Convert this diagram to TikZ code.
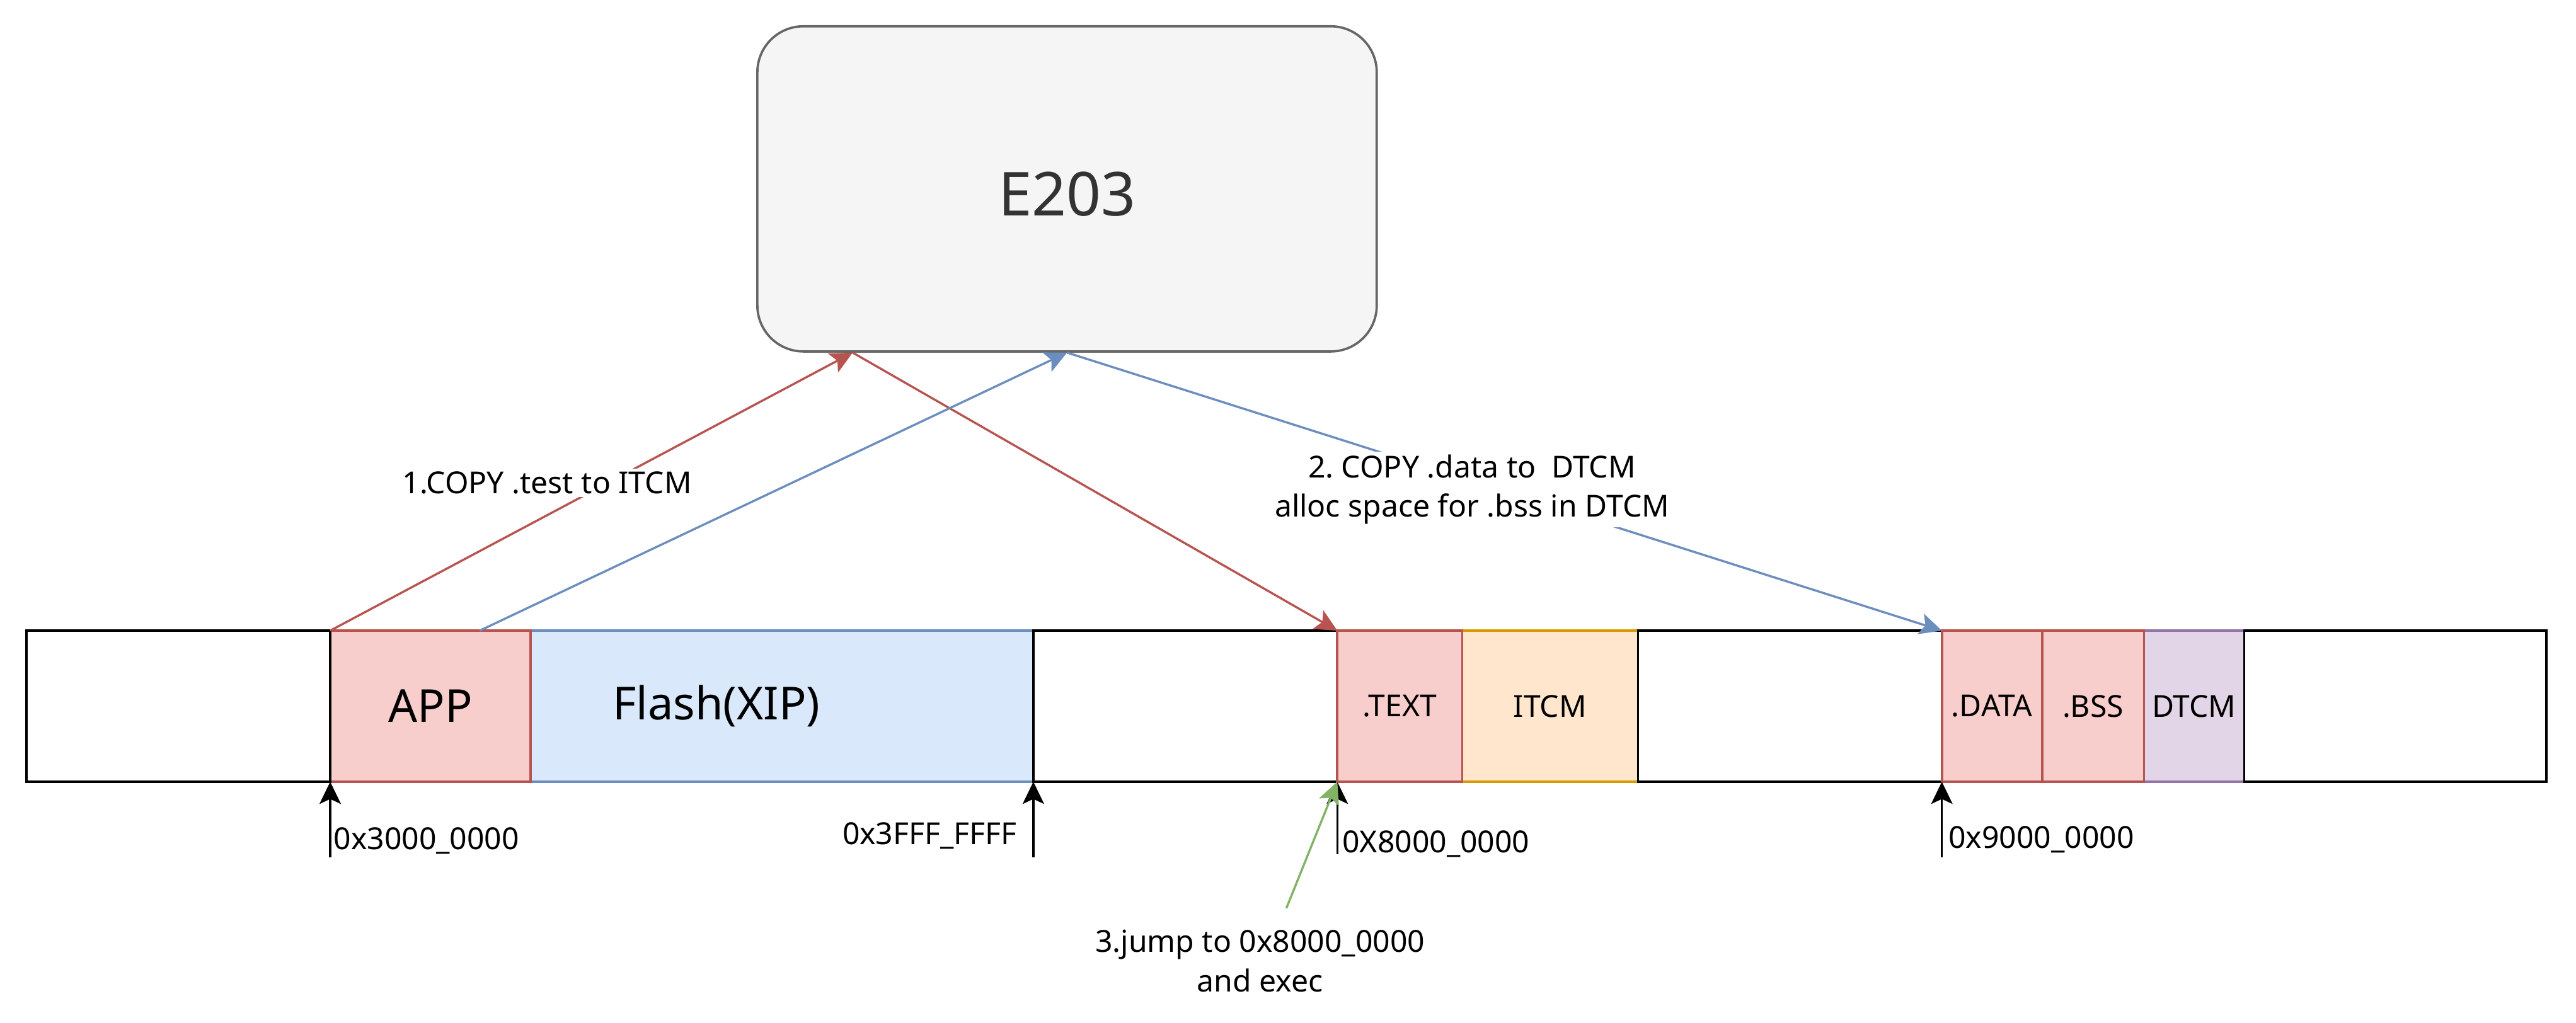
\documentclass[tikz,border=0pt]{standalone}
\usepackage{fontspec}
\setmainfont{Noto Sans}
\frenchspacing
\usetikzlibrary{arrows.meta,fit,calc}
\definecolor{redfill}{HTML}{F8CECC}\definecolor{redline}{HTML}{B85450}
\definecolor{bluefill}{HTML}{DAE8FC}\definecolor{blueline}{HTML}{6C8EBF}
\definecolor{orangefill}{HTML}{FFE6CC}\definecolor{orangeline}{HTML}{D79B00}
\definecolor{purplefill}{HTML}{E1D5E7}\definecolor{purpleline}{HTML}{9673A6}
\definecolor{grayfill}{HTML}{F5F5F5}\definecolor{grayline}{HTML}{666666}
\definecolor{graytext}{HTML}{333333}\definecolor{greenline}{HTML}{82B366}
\tikzset{
  ln/.style={line width=0.8pt, line cap=rect, line join=miter},
  cell/.style={inner sep=0pt, outer sep=0pt},
  small/.style={inner sep=0pt, font=\fontsize{10.5}{12.6}\selectfont},
  big/.style={inner sep=0pt, font=\fontsize{15.75}{18}\selectfont},
  cpubox/.style={draw=grayline, fill=grayfill, line width=0.8pt, rounded corners=0.56cm,
     inner sep=0pt},
  cputext/.style={inner sep=0pt, text=graytext, font=\fontsize{21}{25}\selectfont},
  tipa/.style={-{Stealth[length=0.27cm,width=0.26cm,inset=0.06cm]}, line width=0.75pt},
  lbl/.style={fill=white, inner sep=1pt, font=\fontsize{10.5}{13.7}\selectfont\frenchspacing, align=center},
  addr/.style={inner sep=1pt, font=\fontsize{10.5}{12.6}\selectfont},
}
\begin{document}
\begin{tikzpicture}[x=0.02cm, y=-0.02cm]
\useasboundingbox (0,0) rectangle (1568,622.9);

% CPU
\node[cpubox, fit={(461,16) (838,214)}] (cpu) {};
\node[cputext] (cpulabel) at ($(cpu.center)+(0,3)$) {E203};

% memory cells
\node[cell, fill=white, fit={(16,384) (201,476)}] (w1) {};
\node[cell, fill=redfill, fit={(201,384) (323,476)}] (app) {};
\node[cell, fill=bluefill, fit={(323,384) (629,476)}] (flash) {};
\node[cell, fill=white, fit={(629,384) (814,476)}] (w2) {};
\node[cell, fill=redfill, fit={(814,384) (890,476)}] (text) {};
\node[cell, fill=orangefill, fit={(890,384) (997,476)}] (itcm) {};
\node[cell, fill=white, fit={(997,384) (1182,476)}] (w3) {};
\node[cell, fill=redfill, fit={(1182,384) (1243,476)}] (data) {};
\node[cell, fill=redfill, fit={(1243,384) (1305,476)}] (bss) {};
\node[cell, fill=purplefill, fit={(1305,384) (1366,476)}] (dtcm) {};
\node[cell, fill=white, fit={(1366,384) (1550,476)}] (w4) {};

% cell texts
\node[big] (tapp) at (app.center) {APP};
\node[big] (tflash) at ($(flash.center)+(-40,0)$) {Flash(XIP)};
\node[small] (ttext) at (text.center) {.TEXT};
\node[small] (titcm) at (itcm.center) {ITCM};
\node[small] (tdata) at (data.center) {.DATA};
\node[small] (tbss) at (bss.center) {.BSS};
\node[small] (tdtcm) at (dtcm.center) {DTCM};

% outer black frame
\draw[ln] (w1.north west) rectangle (w4.south east);
% coloured top / bottom edges
\foreach \c/\col in {app/redline, flash/blueline, text/redline, itcm/orangeline,
                     data/redline, bss/redline, dtcm/purpleline}{
  \draw[ln, draw=\col] (\c.north west) -- (\c.north east) (\c.south west) -- (\c.south east);
}
% coloured dividers
\draw[ln, redline] (app.north east) -- (app.south east)
   (text.north west) -- (text.south west) (text.north east) -- (text.south east)
   (data.north west) -- (data.south west) (bss.north west) -- (bss.south west)
   (bss.north east) -- (bss.south east);
% black dividers
\draw[ln] (w1.north east) -- (w1.south east) (flash.north east) -- (flash.south east)
   (itcm.north east) -- (itcm.south east) (dtcm.north east) -- (dtcm.south east);

% connection points
\coordinate (cpuA) at ($(cpu.south)+(-130.5,0)$);
\coordinate (appB) at ($(app.north west)+(91,0)$);
\coordinate (p1) at ($(app.south west)+(0,46)$);
\coordinate (p2) at ($(flash.south east)+(0,46)$);
\coordinate (p3) at ($(text.south west)+(0,44)$);
\coordinate (p4) at ($(data.south west)+(0,46)$);
\coordinate (g0) at (783,553);

% copy arrows
\draw[tipa, redline] (app.north west) -- (cpuA);
\draw[tipa, redline] (cpuA) -- (text.north west);
\draw[tipa, blueline] (appB) -- (cpu.south);
\draw[tipa, blueline] (cpu.south) -- (data.north west);

% address arrows
\draw[tipa] (p1) -- (app.south west);
\draw[tipa] (p2) -- (flash.south east);
\draw[tipa] (p3) -- (text.south west);
\draw[tipa] (p4) -- (data.south west);
\draw[tipa, greenline] (g0) -- (text.south west);

% labels
\node[lbl] (l1) at (333,294) {1.COPY .test to ITCM};
\node[lbl] (l2) at (896,298) {2. COPY .data to\ \ DTCM\\alloc space for .bss in DTCM};
\node[lbl] (l3) at (767,585) {3.jump to 0x8000\_0000\\and exec};

\node[addr, anchor=west] (a1) at (201,512) {0x3000\_0000};
\node[addr, anchor=east] (a2) at (621,509) {0x3FFF\_FFFF};
\node[addr, anchor=west] (a3) at (815,514) {0X8000\_0000};
\node[addr, anchor=west] (a4) at (1184,511) {0x9000\_0000};
\end{tikzpicture}
\end{document}
